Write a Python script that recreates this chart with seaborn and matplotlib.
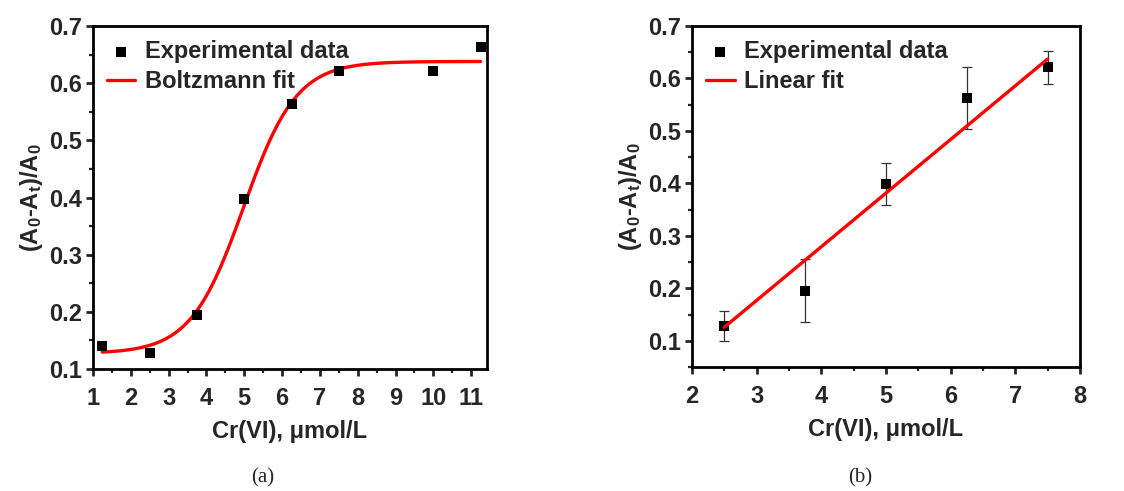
import numpy as np
import matplotlib
matplotlib.use("Agg")
import matplotlib.pyplot as plt
import seaborn as sns
import pandas as pd
from matplotlib.ticker import MultipleLocator

# ---- data (a) ----
conc_a = [1.25, 2.5, 3.75, 5.0, 6.25, 7.5, 10.0, 11.25]
resp_a = [0.140, 0.128, 0.195, 0.398, 0.563, 0.621, 0.621, 0.663]
# Boltzmann fit parameters (A1, A2, x0, dx)
boltz_A1 = 0.127
boltz_A2 = 0.638
boltz_x0 = 4.98
boltz_dx = 0.70
fit_range_a = [1.25, 11.25]

# ---- data (b) ----
conc_b = [2.5, 3.75, 5.0, 6.25, 7.5]
resp_b = [0.128, 0.195, 0.398, 0.563, 0.621]
err_b = [0.029, 0.060, 0.040, 0.059, 0.031]
lin_x = [2.5, 7.5]
lin_y = [0.126, 0.637]

sns.set_theme(style="ticks")
plt.rcParams['font.family'] = ['Liberation Sans', 'DejaVu Sans']
plt.rcParams['font.weight'] = 'bold'
plt.rcParams['mathtext.default'] = 'regular'
plt.rcParams['axes.linewidth'] = 2.0

fig = plt.figure(figsize=(11.24, 4.91), dpi=100)
axa = fig.add_axes([0.0827, 0.2485, 0.3506, 0.6985])
axb = fig.add_axes([0.6157, 0.2525, 0.345, 0.6945])

red = '#ff0000'
fs = 17

# panel a
xs = np.linspace(fit_range_a[0], fit_range_a[1], 300)
ys = boltz_A2 + (boltz_A1 - boltz_A2) / (1 + np.exp((xs - boltz_x0) / boltz_dx))
df_a = pd.DataFrame({'x': conc_a, 'y': resp_a})
df_fa = pd.DataFrame({'x': xs, 'y': ys})
sns.scatterplot(data=df_a, x='x', y='y', ax=axa, marker='s', s=55, color='black',
                edgecolor='black', linewidth=0, label='Experimental data', zorder=3)
sns.lineplot(data=df_fa, x='x', y='y', ax=axa, color=red, linewidth=2.4,
             label='Boltzmann fit', zorder=2)
axa.set_xlim(1, 11.42)
axa.set_ylim(0.1, 0.7)
axa.xaxis.set_major_locator(MultipleLocator(1))
axa.xaxis.set_minor_locator(MultipleLocator(0.5))
axa.set_yticks([0.1, 0.2, 0.3, 0.4, 0.5, 0.6, 0.7])
axa.set_yticklabels(['0.1', '0.2', '0.3', '0.4', '0.5', '0.6', '0.7'])
axa.yaxis.set_minor_locator(MultipleLocator(0.05))

# panel b
df_b = pd.DataFrame({'x': conc_b, 'y': resp_b})
df_fb = pd.DataFrame({'x': lin_x, 'y': lin_y})
axb.errorbar(conc_b, resp_b, yerr=err_b, fmt='none', ecolor='#333333',
             elinewidth=0.9, capsize=3.5, capthick=0.9, zorder=2)
sns.scatterplot(data=df_b, x='x', y='y', ax=axb, marker='s', s=55, color='black',
                edgecolor='black', linewidth=0, label='Experimental data', zorder=3)
sns.lineplot(data=df_fb, x='x', y='y', ax=axb, color=red, linewidth=2.4,
             label='Linear fit', zorder=4)
axb.set_xlim(2, 8)
axb.set_ylim(0.05, 0.7)
axb.xaxis.set_major_locator(MultipleLocator(1))
axb.xaxis.set_minor_locator(MultipleLocator(0.5))
axb.set_yticks([0.1, 0.2, 0.3, 0.4, 0.5, 0.6, 0.7])
axb.set_yticklabels(['0.1', '0.2', '0.3', '0.4', '0.5', '0.6', '0.7'])
axb.yaxis.set_minor_locator(MultipleLocator(0.05))

for ax in (axa, axb):
    for sp in ax.spines.values():
        sp.set_visible(True)
        sp.set_linewidth(2.0)
        sp.set_color('black')
    ax.tick_params(axis='both', which='major', direction='out', length=5, width=2,
                   labelsize=fs, pad=3, top=False, right=False)
    ax.tick_params(axis='both', which='minor', direction='out', length=3, width=1.6,
                   top=False, right=False)
    ax.tick_params(axis='x', which='major', pad=8)
    for lab in ax.get_xticklabels() + ax.get_yticklabels():
        lab.set_fontweight('bold')
    ax.set_xlabel('Cr(VI), \u03bcmol/L', fontsize=fs, fontweight='bold', labelpad=7)
    ax.set_ylabel('(A$_0$-A$_t$)/A$_0$', fontsize=fs, fontweight='bold', labelpad=3)
    leg = ax.legend(loc='upper left', frameon=False,
                    handlelength=1.2, handletextpad=0.4, borderaxespad=0.2,
                    labelspacing=0.3, prop={'weight': 'bold', 'size': fs})

fig.text(0.234, 0.027, '(a)', ha='center', va='center', fontsize=15,
         family=['Liberation Serif', 'DejaVu Serif'], fontweight='normal')
fig.text(0.765, 0.027, '(b)', ha='center', va='center', fontsize=15,
         family=['Liberation Serif', 'DejaVu Serif'], fontweight='normal')

fig.savefig('out.png', dpi=100)
